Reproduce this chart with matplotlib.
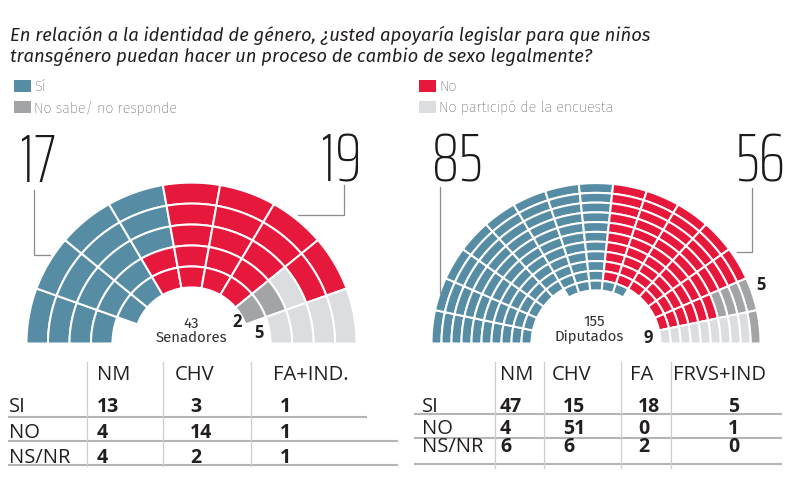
import numpy as np
import matplotlib
matplotlib.use("Agg")
import matplotlib.pyplot as plt
from matplotlib.collections import PolyCollection

# categorias y colores
categorias = ["Sí", "No", "No sabe/ no responde", "No participó de la encuesta"]
codigos = ["S", "N", "X", "A"]
colores = {"S": "#568da5", "N": "#e6193c", "X": "#a3a4a6", "A": "#dcdde0"}

# totales por camara
senado_total = [17, 19, 2, 5]
diputados_total = [85, 56, 5, 9]

# asientos por sector (de izquierda a derecha, de afuera hacia adentro)
senado_sectores = ["SSSS", "SSSSS", "SSSSS", "SSSNN", "NNNNN",
                   "NNNNN", "NNNNN", "NNAXX", "AAAA"]
diputados_sectores = (["S" * 10] * 5 + ["S" * 11] * 3 + ["N" * 10 + "S"] * 2
                      + ["N" * 10] * 3 + ["XXXX" + "N" * 6, "X" + "A" * 9])

for sect, tot in [(senado_sectores, senado_total), (diputados_sectores, diputados_total)]:
    s = "".join(sect)
    assert [s.count(c) for c in codigos] == tot

# tablas
senado_cols = ["NM", "CHV", "FA+IND."]
senado_si = [13, 3, 1]
senado_no = [4, 14, 1]
senado_ns = [4, 2, 1]
diputados_cols = ["NM", "CHV", "FA", "FRVS+IND"]
diputados_si = [47, 15, 18, 5]
diputados_no = [4, 51, 0, 1]
diputados_ns = [6, 6, 2, 0]
filas = ["SI", "NO", "NS/NR"]

titulo = ["En relación a la identidad de género, ¿usted apoyaría legislar para que niños",
          "transgénero puedan hacer un proceso de cambio de sexo legalmente?"]

TXT = "#231f20"

fig = plt.figure(figsize=(7.95, 4.79), dpi=100)
ax = fig.add_axes([0, 0, 1, 1])
ax.set_xlim(0, 795)
ax.set_ylim(479, 0)
ax.axis("off")


def hemiciclo(sectores, cx, cy, R, paso, ky=0.975):
    n = len(sectores)
    w = 180.0 / n
    polys, fcs = [], []
    for i, sec in enumerate(sectores):
        t0 = np.radians(180 - i * w)
        t1 = np.radians(180 - (i + 1) * w)
        t = np.linspace(t0, t1, 30)
        for j, c in enumerate(sec):
            ro = R - j * paso
            ri = ro - paso
            xo = cx + ro * np.cos(t)
            yo = cy - ky * ro * np.sin(t)
            xi = cx + ri * np.cos(t[::-1])
            yi = cy - ky * ri * np.sin(t[::-1])
            polys.append(np.column_stack([np.r_[xo, xi], np.r_[yo, yi]]))
            fcs.append(colores[c])
    pc = PolyCollection(polys, facecolors=fcs, edgecolors="white", linewidths=1.45)
    ax.add_collection(pc)


hemiciclo(senado_sectores, 191.5, 343.5, 165, 21.5)
hemiciclo(diputados_sectores, 596, 343.5, 164.5, 10.0)

# titulo
for linea, yb in zip(titulo, [41, 62]):
    ax.text(10, yb, linea, fontsize=13.3, family="Fira Sans", style="italic",
            color=TXT, va="baseline")

# leyenda
leyenda_pos = [(14, 80), (419, 80), (14, 101), (419, 101)]
for cod, cat, (lx, ly) in zip(codigos, categorias, leyenda_pos):
    ax.add_patch(plt.Rectangle((lx, ly), 17, 11.5, color=colores[cod], lw=0))
    ax.text(lx + 20, ly + 11, cat, fontsize=10.3, family="Fira Sans", weight="light",
            color="#2e2e2e", va="baseline")

# numeros grandes
grandes = [(37.5, senado_total[0]), (341, senado_total[1]),
           (457.5, diputados_total[0]), (761, diputados_total[1])]
for gx, val in grandes:
    ax.text(gx, 182, str(val), fontsize=49, family="Saira ExtraCondensed",
            weight="light", color="#1a1a1a", ha="center", va="baseline")

lc = dict(color="#8c8c8c", lw=0.9)
ax.plot([33.5, 33.5, 50], [190, 255, 255], **lc)
ax.plot([343.5, 343.5, 298], [185, 215, 215], **lc)
ax.plot([440, 440], [187, 293], **lc)
ax.plot([751.5, 751.5, 737], [188, 252, 252], **lc)

# etiquetas centrales
cen = dict(fontsize=10.8, family="Fira Sans", weight="normal", color="#333333",
           ha="center", va="baseline")
neg = dict(fontsize=12, family="Open Sans", weight="bold", color=TXT,
           ha="center", va="baseline")
ax.text(191, 328, "43", **cen)
ax.text(191, 342, "Senadores", **cen)
ax.text(237.5, 327, str(senado_total[2]), **neg)
ax.text(259, 338.5, str(senado_total[3]), **neg)
ax.text(594, 326.5, "155", **cen)
ax.text(589, 340.5, "Diputados", **cen)
ax.text(648, 343, str(diputados_total[3]), **neg)
ax.text(761, 290, str(diputados_total[2]), **neg)


def tabla(cols, valores, x_fila, x_cols, x_vals, ys, ys_lin, xs_lin, x_vlin, y_vlin):
    for c, xc in zip(cols, x_cols):
        ax.text(xc, ys[0], c, fontsize=14.5, family="Open Sans", color=TXT, va="baseline")
    for fila, vals, yf in zip(filas, valores, ys[1:]):
        ax.text(x_fila, yf, fila, fontsize=14.5, family="Open Sans", color=TXT, va="baseline")
        for v, xv in zip(vals, x_vals):
            ax.text(xv, yf, str(v), fontsize=14, family="Open Sans", weight="bold",
                    color=TXT, va="baseline")
    for yl, (xa, xb) in zip(ys_lin, xs_lin):
        ax.plot([xa, xb], [yl, yl], color="#b5b5b5", lw=1.5, solid_capstyle="butt")
    for xv in x_vlin:
        ax.plot([xv, xv], y_vlin, color="#cfcfcf", lw=0.9)


tabla(senado_cols, [senado_si, senado_no, senado_ns], 9,
      [97, 175, 273], [97, 190, 280],
      [380, 411.5, 438, 463], [416.5, 440.5, 465], [(8, 367), (8, 398), (8, 398)],
      [86.5, 162.5, 250.5], [362, 466])
tabla(diputados_cols, [diputados_si, diputados_no, diputados_ns], 421.5,
      [500, 552, 630, 673], [500, 563, 638, 728],
      [380, 411.5, 433.5, 452], [413.5, 437.5, 463.5], [(414, 782), (414, 782), (414, 782)],
      [495, 543.5, 620.5, 670.5], [362, 468])

fig.savefig("out.png", dpi=100)
